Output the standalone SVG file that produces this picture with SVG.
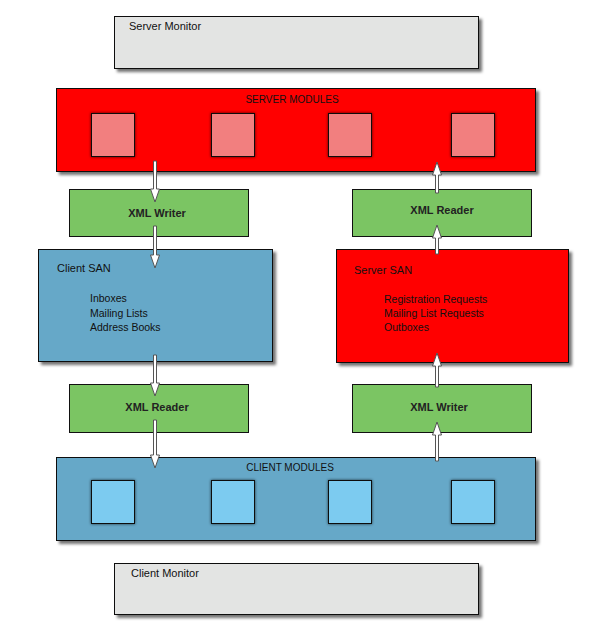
<svg xmlns="http://www.w3.org/2000/svg" width="597" height="638" viewBox="0 0 597 638">
<defs>
<filter id="sh" x="-5%" y="-10%" width="115%" height="130%">
<feDropShadow dx="3" dy="3" stdDeviation="1.8" flood-color="#000" flood-opacity="0.55"/>
</filter>
<filter id="glow" x="-20%" y="-20%" width="140%" height="140%">
<feDropShadow dx="0" dy="0" stdDeviation="1.5" flood-color="#000" flood-opacity="0.7"/>
</filter>
</defs>
<style>
.box{stroke:#111;stroke-width:1;}
.mon{fill:#e3e4e3;}
.red{fill:#ff0000;}
.blue{fill:#66a8c8;}
.green{fill:#7bc563;}
.pink{fill:#f27f7f;stroke:#111;stroke-width:1;}
.lb{fill:#7bcbf0;stroke:#111;stroke-width:1;}
text{font-family:"Liberation Sans",Arial,sans-serif;font-size:11px;fill:#111;}
.t{font-size:10.5px;}
.b{font-weight:bold;text-anchor:middle;fill:#222;}
.h{font-size:10px;text-anchor:middle;}
.arrow{fill:#fff;stroke:#555;stroke-width:1;stroke-linejoin:miter;}
</style>
<rect width="597" height="638" fill="#fff"/>

<g id="server-monitor">
<rect class="box mon" x="114.5" y="16.5" width="364" height="52" filter="url(#sh)"/>
<text x="129" y="30">Server Monitor</text>
</g>

<g id="server-modules">
<rect class="box red" x="56.5" y="88.5" width="479" height="83" filter="url(#sh)"/>
<text class="h" x="292" y="103">SERVER MODULES</text>
<rect class="pink" x="91.5" y="113.5" width="43" height="43" filter="url(#glow)"/>
<rect class="pink" x="211.5" y="113.5" width="43" height="43" filter="url(#glow)"/>
<rect class="pink" x="328.5" y="113.5" width="43" height="43" filter="url(#glow)"/>
<rect class="pink" x="451.5" y="113.5" width="43" height="43" filter="url(#glow)"/>
</g>

<g id="xml-writer-top">
<rect class="box green" x="69.5" y="189.5" width="179" height="47"/>
<text class="b" x="157" y="217">XML Writer</text>
</g>

<g id="xml-reader-top">
<rect class="box green" x="352.5" y="189.5" width="179" height="47"/>
<text class="b" x="442" y="214">XML Reader</text>
</g>

<g id="client-san">
<rect class="box blue" x="38.5" y="249.5" width="234" height="112" filter="url(#sh)"/>
<text x="57" y="272">Client SAN</text>
<text class="t" x="90" y="302">Inboxes</text>
<text class="t" x="90" y="317">Mailing Lists</text>
<text class="t" x="90" y="331">Address Books</text>
</g>

<g id="server-san">
<rect class="box red" x="336.5" y="249.5" width="232" height="113" filter="url(#sh)"/>
<text x="354" y="274">Server SAN</text>
<text class="t" x="384" y="303">Registration Requests</text>
<text class="t" x="384" y="317">Mailing List Requests</text>
<text class="t" x="384" y="331">Outboxes</text>
</g>

<g id="xml-reader-bottom">
<rect class="box green" x="69.5" y="384.5" width="179" height="48"/>
<text class="b" x="157" y="411">XML Reader</text>
</g>

<g id="xml-writer-bottom">
<rect class="box green" x="352.5" y="384.5" width="179" height="48"/>
<text class="b" x="439" y="411">XML Writer</text>
</g>

<g id="client-modules">
<rect class="box blue" x="56.5" y="457.5" width="479" height="83" filter="url(#sh)"/>
<text class="h" x="290" y="471">CLIENT MODULES</text>
<rect class="lb" x="91.5" y="480.5" width="43" height="43" filter="url(#glow)"/>
<rect class="lb" x="211.5" y="480.5" width="43" height="43" filter="url(#glow)"/>
<rect class="lb" x="328.5" y="480.5" width="43" height="43" filter="url(#glow)"/>
<rect class="lb" x="451.5" y="480.5" width="43" height="43" filter="url(#glow)"/>
</g>

<g id="client-monitor">
<rect class="box mon" x="114.5" y="563.5" width="364" height="51" filter="url(#sh)"/>
<text x="131" y="577">Client Monitor</text>
</g>

<g id="connectors">
<path class="arrow" d="M153.5 161 H156.5 V189 L159.5 189 L155 202 L150.5 189 L153.5 189 Z"/>
<path class="arrow" d="M153.5 226 H156.5 V255 L159.5 255 L155 268 L150.5 255 L153.5 255 Z"/>
<path class="arrow" d="M153.5 355 H156.5 V383 L159.5 383 L155 396 L150.5 383 L153.5 383 Z"/>
<path class="arrow" d="M153.5 420 H156.5 V455 L159.5 455 L155 468 L150.5 455 L153.5 455 Z"/>
<path class="arrow" d="M435.5 461 H438.5 V435 L441.5 435 L437 422 L432.5 435 L435.5 435 Z"/>
<path class="arrow" d="M435.5 387 H438.5 V366 L441.5 366 L437 353 L432.5 366 L435.5 366 Z"/>
<path class="arrow" d="M435.5 254 H438.5 V238 L441.5 238 L437 225 L432.5 238 L435.5 238 Z"/>
<path class="arrow" d="M435.5 193 H438.5 V175 L441.5 175 L437 162 L432.5 175 L435.5 175 Z"/>
</g>
</svg>
